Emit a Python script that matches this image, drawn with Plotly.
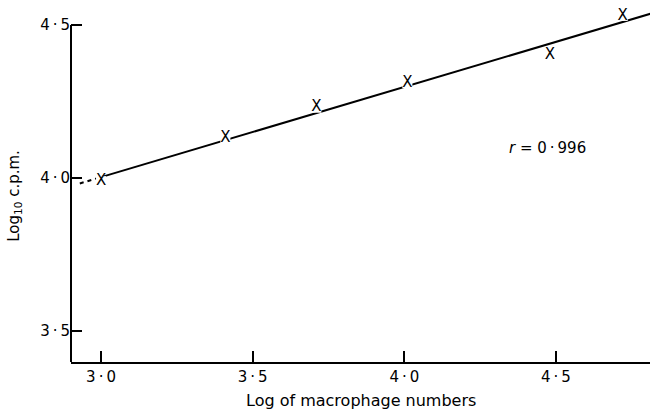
import numpy as np
import plotly.graph_objects as go

# Data
log_macrophages = [3.00, 3.41, 3.71, 4.01, 4.48, 4.72]
log_cpm = [3.99, 4.13, 4.23, 4.31, 4.40, 4.53]
x_tick_vals = [3.0, 3.5, 4.0, 4.5]
x_tick_text = ["3\u2009·\u20090", "3\u2009·\u20095", "4\u2009·\u20090", "4\u2009·\u20095"]
y_tick_vals = [3.5, 4.0, 4.5]
y_tick_text = ["3\u2009·\u20095", "4\u2009·\u20090", "4\u2009·\u20095"]
r_text = "<i>r</i> = 0\u2009·\u2009996"

# least-squares regression line from the points
slope, intercept = np.polyfit(log_macrophages, log_cpm, 1)
fit_x = [3.0, 4.9]
fit_y = [intercept + slope * v for v in fit_x]
ext_x = [2.93, 3.0]
ext_y = [intercept + slope * v for v in ext_x]

FONT = "DejaVu Sans"
fig = go.Figure()
fig.add_trace(go.Scatter(x=ext_x, y=ext_y, mode="lines",
                         line=dict(color="black", width=2, dash="4px,4px"),
                         hoverinfo="skip"))
fig.add_trace(go.Scatter(x=fit_x, y=fit_y, mode="lines",
                         line=dict(color="black", width=2), hoverinfo="skip"))
fig.add_trace(go.Scatter(x=log_macrophages, y=log_cpm, mode="markers+text",
                         marker=dict(symbol="square", size=10, color="white"),
                         text=["X"] * len(log_macrophages),
                         textposition="middle center",
                         textfont=dict(family=FONT, size=15, color="black"),
                         cliponaxis=False))

fig.add_shape(type="line", xref="paper", yref="y", x0=0, x1=0, y0=3.399, y1=4.5,
              line=dict(color="black", width=2))

fig.add_annotation(x=4.472, y=4.10, text=r_text, showarrow=False,
                   font=dict(family=FONT, size=15, color="black"))
fig.add_annotation(xref="paper", yref="paper", x=0.5, y=-0.1397, yanchor="bottom",
                   text="Log of macrophage numbers", showarrow=False,
                   font=dict(family=FONT, size=16, color="black"))
fig.add_annotation(xref="paper", yref="paper", x=-0.098, y=0.465, xanchor="center",
                   text="Log<sub>10</sub> c.p.m.", textangle=-90, showarrow=False,
                   font=dict(family=FONT, size=15, color="black"))

fig.update_layout(
    width=650, height=412,
    margin=dict(l=71, r=0, t=4, b=50),
    paper_bgcolor="white", plot_bgcolor="white",
    showlegend=False,
    xaxis=dict(range=[2.901, 4.810], tickvals=x_tick_vals, ticktext=x_tick_text,
               ticks="inside", ticklen=11, tickwidth=1.5, tickcolor="black",
               showline=True, linecolor="black", linewidth=2,
               showgrid=False, zeroline=False,
               tickfont=dict(family=FONT, size=15, color="black")),
    yaxis=dict(range=[3.399, 4.569], tickvals=y_tick_vals, ticktext=y_tick_text,
               ticks="inside", ticklen=11, tickwidth=1.5, tickcolor="black",
               showline=False, showgrid=False, zeroline=False,
               tickfont=dict(family=FONT, size=15, color="black")),
)

fig.write_html("out.html")
